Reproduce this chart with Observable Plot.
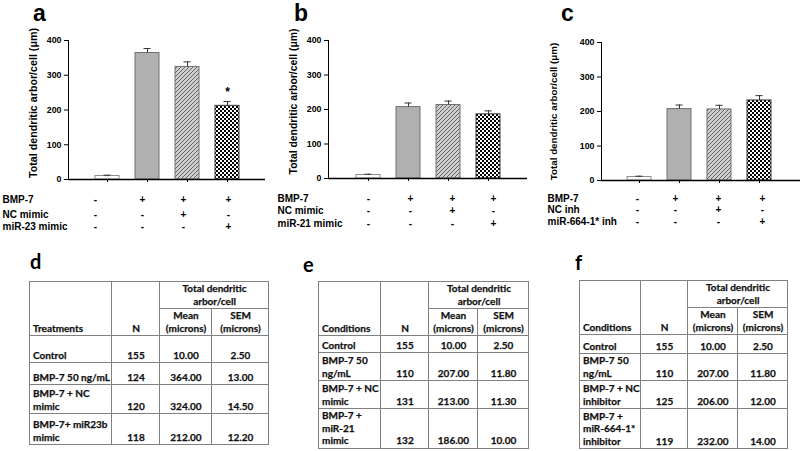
<!DOCTYPE html>
<html><head><meta charset="utf-8">
<script src="https://cdn.jsdelivr.net/npm/d3@7"></script>
<script src="https://cdn.jsdelivr.net/npm/@observablehq/plot@0.6"></script>
<style>
html,body{margin:0;padding:0;background:#fff;}
#fig{position:relative;width:800px;height:451px;overflow:hidden;background:#fff;}
.panel{position:absolute;top:0;}
.letter{position:absolute;font-family:"Liberation Sans",Arial,sans-serif;font-weight:bold;font-size:23px;line-height:26px;color:#000;}
.tletter{position:absolute;font-family:Lato,sans-serif;font-weight:bold;font-size:20px;line-height:20px;color:#000;}
table.t{position:absolute;border-collapse:collapse;table-layout:fixed;font-family:Lato,"Open Sans",sans-serif;font-weight:bold;font-size:10px;color:#111;-webkit-text-stroke:0.25px #111;}
table.t td{border:1px solid #808080;padding:0 2px 1px 3px;vertical-align:bottom;line-height:12.5px;white-space:nowrap;overflow:hidden;text-align:center;}
table.t td.l{text-align:left;}
</style></head><body><div id="fig"></div>
<script>
// ---------- data ----------
const categories = ["Control", "BMP-7", "BMP-7 + NC", "BMP-7 + miR"];
const yTicks = [0, 100, 200, 300, 400];
const yTitle = "Total dendritic arbor/cell (μm)";
const signRows = [["-", "+", "+", "+"], ["-", "-", "+", "-"], ["-", "-", "-", "+"]];
const rowLabelsA = ["BMP-7", "NC mimic", "miR-23 mimic"];
const rowLabelsB = ["BMP-7", "NC mimic", "miR-21 mimic"];
const rowLabelsC = ["BMP-7", "NC inh", "miR-664-1* inh"];
const meanA = [10, 364, 324, 212];
const semA = [2.5, 13, 14.5, 12.2];
const nA = [155, 124, 120, 118];
const meanB = [10, 207, 213, 186];
const semB = [2.5, 11.8, 11.3, 10];
const nB = [155, 110, 131, 132];
const meanC = [10, 207, 206, 232];
const semC = [2.5, 11.8, 12, 14];
const nC = [155, 110, 125, 119];
const starA = [false, false, false, true];
const labelsD = [["Control"], ["BMP-7 50 ng/mL"], ["BMP-7 + NC", "mimic"], ["BMP-7+ miR23b", "mimic"]];
const labelsE = [["Control"], ["BMP-7 50", "ng/mL"], ["BMP-7 + NC", "mimic"], ["BMP-7 +", "miR-21", "mimic"]];
const labelsF = [["Control"], ["BMP-7 50", "ng/mL"], ["BMP-7 + NC", "inhibitor"], ["BMP-7 +", "miR-664-1*", "inhibitor"]];
const headerGroup = ["Total dendritic", "arbor/cell"];
const headerMean = ["Mean", "(microns)"];
const headerSem = ["SEM", "(microns)"];

const fig = document.getElementById("fig");

function chart(cfg) {
  const {id, means, sems, rowLabels, left, width, ml, mr, mt, mb, inL, inR,
         titleDx, titleDy, titleSize, labelDx, rowDy, colDx, stars} = cfg;
  const fills = ["#ffffff", "#b0b0b0", `url(#${id}h)`, `url(#${id}c)`];
  const strokes = ["#8a8a8a", "#707070", "#707070", "#3a3a3a"];
  const data = categories.map((c, i) => ({cat: c, mean: means[i], top: means[i] + sems[i], fill: fills[i], stroke: strokes[i]}));
  const marks = [
    Plot.barY(data, {x: "cat", y: "mean", fill: "fill", stroke: "stroke", strokeWidth: 1}),
    Plot.ruleX(data, {x: "cat", y1: "mean", y2: "top", stroke: "#333", strokeWidth: 1}),
    Plot.tickY(data, {x: "cat", y: "top", stroke: "#333", strokeWidth: 1, insetLeft: 8.5, insetRight: 8.5}),
    Plot.axisY({ticks: yTicks, tickSize: 4, tickPadding: 3, fontSize: 8.8, label: null, tickFormat: d3.format("d")}),
    Plot.axisX({tickSize: 3, tickFormat: () => "", label: null}),
    Plot.ruleY([0], {stroke: "#000", strokeWidth: 1.6}),
    Plot.frame({anchor: "left", stroke: "#000", strokeWidth: 1}),
    Plot.text([yTitle], {frameAnchor: "left", textAnchor: "middle", lineAnchor: "middle", rotate: -90, dx: titleDx, dy: titleDy, fontSize: titleSize})
  ];
  rowLabels.forEach((lab, r) => {
    marks.push(Plot.text([lab], {frameAnchor: "bottom-left", textAnchor: "start", dx: labelDx, dy: rowDy[r], fontSize: 10}));
    categories.forEach((c, j) => {
      marks.push(Plot.text([{cat: c, s: signRows[r][j]}], {x: "cat", text: "s", frameAnchor: "bottom", dy: rowDy[r], dx: colDx[j], fontSize: 10}));
    });
  });
  if (stars) marks.push(Plot.text(data.filter((d, i) => stars[i]), {x: "cat", y: "top", text: () => "*", dy: -9, fontSize: 12}));
  const svg = Plot.plot({
    width, height: 240, marginLeft: ml, marginRight: mr, marginTop: mt, marginBottom: mb,
    style: {fontFamily: '"Liberation Sans", Arial, sans-serif', fontWeight: "bold", color: "#000", background: "transparent", overflow: "visible"},
    x: {domain: categories, paddingInner: 0.4, paddingOuter: 0.2, insetLeft: inL, insetRight: inR, axis: null},
    y: {domain: [0, 400], axis: null},
    color: {type: "identity"},
    marks
  });
  const defs = d3.select(svg).insert("defs", ":first-child");
  const h = defs.append("pattern").attr("id", id + "h").attr("patternUnits", "userSpaceOnUse").attr("width", 4).attr("height", 4);
  h.append("rect").attr("width", 4).attr("height", 4).attr("fill", "#d0d0d0");
  h.append("path").attr("d", "M-1,1L1,-1M0,4L4,0M3,5L5,3").attr("stroke", "#626262").attr("stroke-width", 1);
  const c = defs.append("pattern").attr("id", id + "c").attr("patternUnits", "userSpaceOnUse").attr("width", 4).attr("height", 4);
  c.append("rect").attr("width", 4).attr("height", 4).attr("fill", "#000");
  c.append("rect").attr("width", 2).attr("height", 2).attr("fill", "#fff");
  c.append("rect").attr("x", 2).attr("y", 2).attr("width", 2).attr("height", 2).attr("fill", "#fff");
  const div = document.createElement("div");
  div.className = "panel";
  div.style.left = left + "px";
  div.appendChild(svg);
  fig.appendChild(div);
}

chart({id: "pa", means: meanA, sems: semA, rowLabels: rowLabelsA, left: 0, width: 268, ml: 68, mr: 3, mt: 40, mb: 61,
  inL: 19, inR: 18, titleDx: -35, titleDy: -7, titleSize: 10.7, labelDx: -66, rowDy: [23, 38, 50], colDx: [-12, -5, -4, 1], stars: starA});
chart({id: "pb", means: meanB, sems: semB, rowLabels: rowLabelsB, left: 260, width: 270, ml: 68, mr: 3, mt: 40, mb: 62,
  inL: 20, inR: 19, titleDx: -35, titleDy: -8, titleSize: 10.4, labelDx: -51, rowDy: [23, 35.5, 48], colDx: [0, 2, 4, 5]});
chart({id: "pc", means: meanC, sems: semC, rowLabels: rowLabelsC, left: 530, width: 270, ml: 71, mr: 0, mt: 42, mb: 60,
  inL: 18, inR: 21, titleDx: -48, titleDy: 0, titleSize: 9.8, labelDx: -54, rowDy: [21, 32, 44], colDx: [-2, -4, -1, 3]});

function letter(cls, txt, x, y) {
  const d = document.createElement("div");
  d.className = cls; d.textContent = txt; d.style.left = x + "px"; d.style.top = y + "px";
  fig.appendChild(d);
}
letter("letter", "a", 33, 0);
letter("letter", "b", 294, 0);
letter("letter", "c", 561, 0);
letter("tletter", "d", 30, 251);
letter("tletter", "e", 303, 254);
letter("tletter", "f", 575, 252);

function lines(arr) { return arr.join("<br>"); }
function table(cfg) {
  const {left, top, cols, heights, first, labels, n, mean, sem} = cfg;
  let html = `<colgroup>${cols.map(w => `<col style="width:${w}px">`).join("")}</colgroup>`;
  html += `<tr style="height:${heights[0]}px"><td class="l" rowspan="2">${first}</td><td rowspan="2">N</td><td colspan="2">${lines(headerGroup)}</td></tr>`;
  html += `<tr style="height:${heights[1]}px"><td>${lines(headerMean)}</td><td>${lines(headerSem)}</td></tr>`;
  labels.forEach((lab, i) => {
    html += `<tr style="height:${heights[i + 2]}px"><td class="l">${lines(lab)}</td><td>${n[i]}</td><td>${mean[i].toFixed(2)}</td><td>${sem[i].toFixed(2)}</td></tr>`;
  });
  const t = document.createElement("table");
  t.className = "t";
  t.style.left = left + "px"; t.style.top = top + "px";
  t.style.width = cols.reduce((a, b) => a + b, 0) + "px";
  t.innerHTML = html;
  fig.appendChild(t);
}
table({left: 29, top: 281, cols: [82, 48, 52, 57], heights: [26, 27, 27, 22, 29, 31], first: "Treatments", labels: labelsD, n: nA, mean: meanA, sem: semA});
table({left: 318, top: 281, cols: [62, 48, 49, 51], heights: [27, 27, 17, 28, 28, 39], first: "Conditions", labels: labelsE, n: nB, mean: meanB, sem: semB});
table({left: 579, top: 280, cols: [61, 47, 50, 50], heights: [27, 27, 19, 27, 28, 40], first: "Conditions", labels: labelsF, n: nC, mean: meanC, sem: semC});
</script></body></html>
